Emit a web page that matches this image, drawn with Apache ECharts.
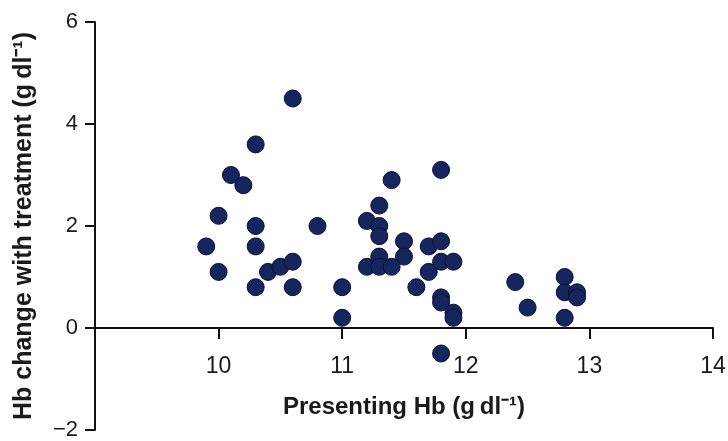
<!DOCTYPE html>
<html>
<head>
    <meta charset="utf-8"/>
    <script src="https://cdn.jsdelivr.net/npm/echarts@6/dist/echarts.min.js"></script>
    <style>
        html, body { margin: 0; padding: 0; background: #fff; }
    </style>
</head>
<body>
<div id="main" style="width: 728px;height:441px;"></div>
<script type="text/javascript">
    // presenting Hb (g/dl) against change with treatment
    var presentingHb = [
        10.6, 10.3, 10.1, 10.2, 10.0, 10.3, 10.8, 9.9, 10.3, 10.0, 10.4, 10.5, 10.6, 10.3, 10.6, 11.0, 11.0,
        11.4, 11.8, 11.3, 11.2, 11.3, 11.3, 11.5, 11.5, 11.2, 11.3, 11.3, 11.4, 11.6, 11.7, 11.8, 11.7,
        11.8, 11.9, 11.8, 11.8, 11.9, 11.9, 11.8,
        12.4, 12.5, 12.8, 12.8, 12.9, 12.9, 12.8
    ];
    var hbChange = [
        4.5, 3.6, 3.0, 2.8, 2.2, 2.0, 2.0, 1.6, 1.6, 1.1, 1.1, 1.2, 1.3, 0.8, 0.8, 0.8, 0.2,
        2.9, 3.1, 2.4, 2.1, 2.0, 1.8, 1.7, 1.4, 1.2, 1.4, 1.2, 1.2, 0.8, 1.6, 1.7, 1.1,
        1.3, 1.3, 0.6, 0.5, 0.3, 0.2, -0.5,
        0.9, 0.4, 1.0, 0.7, 0.7, 0.6, 0.2
    ];
    var xTicks = [10, 11, 12, 13, 14];
    var yTicks = [-2, 0, 2, 4, 6];

    var points = [];
    for (var i = 0; i < presentingHb.length; i++) {
        points.push([presentingHb[i], hbChange[i]]);
    }

    var myChart = echarts.init(document.getElementById('main'));

    var fontFam = '"Liberation Sans", Arial, Helvetica, sans-serif';

    // plot area in px (not named top/left: those clash with window.top)
    var gridL = 95, gridR = 15, gridT = 22, gridB = 11;
    var plotH = 441 - gridT - gridB;
    var yMin = yTicks[0], yMax = yTicks[yTicks.length - 1];
    // x axis is lifted from the bottom edge up to y = 0
    var zeroOffset = plotH * (0 - yMin) / (yMax - yMin);

    option = {
        animation: false,
        backgroundColor: '#fff',
        grid: {
            left: gridL,
            right: gridR,
            top: gridT,
            bottom: gridB,
            outerBoundsMode: 'none'
        },
        xAxis: {
            type: 'value',
            min: 9,
            max: xTicks[xTicks.length - 1],
            interval: 1,
            position: 'bottom',
            offset: -zeroOffset,
            name: 'Presenting Hb (g\u2009dl\u207B\u00B9)',
            nameLocation: 'middle',
            nameGap: 67,
            nameMoveOverlap: false,
            nameTextStyle: { fontFamily: fontFam, fontSize: 24, fontWeight: 'bold', color: '#1a1a1a' },
            splitLine: { show: false },
            axisLine: { show: true, onZero: false, lineStyle: { color: '#111', width: 2 } },
            axisTick: { show: true, length: 11, lineStyle: { color: '#111', width: 2 } },
            axisLabel: {
                margin: 27,
                fontFamily: fontFam,
                fontSize: 23,
                color: '#1a1a1a',
                showMinLabel: false
            }
        },
        yAxis: {
            type: 'value',
            min: yMin,
            max: yMax,
            interval: 2,
            name: 'Hb change with treatment (g\u2009dl\u207B\u00B9)',
            nameLocation: 'middle',
            nameGap: 58,
            nameMoveOverlap: false,
            nameTextStyle: { fontFamily: fontFam, fontSize: 25, fontWeight: 'bold', color: '#1a1a1a' },
            splitLine: { show: false },
            axisLine: { show: true, onZero: false, lineStyle: { color: '#111', width: 2 } },
            axisTick: { show: true, length: 10, lineStyle: { color: '#111', width: 2 } },
            axisLabel: {
                margin: 17,
                fontFamily: fontFam,
                fontSize: 22,
                color: '#1a1a1a',
                formatter: function (v) {
                    return v < 0 ? '\u2212' + Math.abs(v) : String(v);
                }
            }
        },
        series: [{
            type: 'scatter',
            data: points,
            symbolSize: 17,
            itemStyle: {
                color: '#16255e',
                borderColor: '#0a1030',
                borderWidth: 1,
                opacity: 1
            }
        }]
    };

    myChart.setOption(option);
</script>
</body>
</html>
